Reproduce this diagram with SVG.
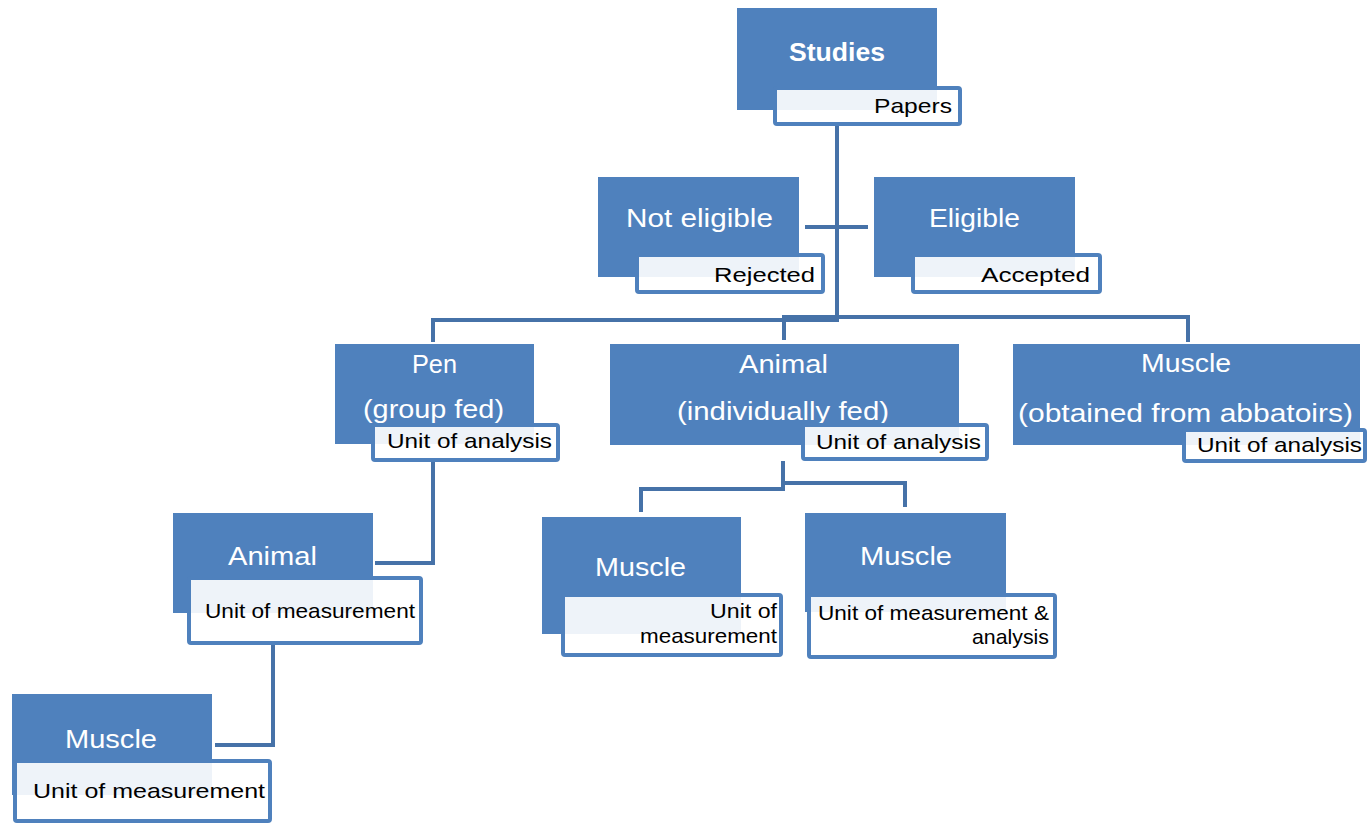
<svg xmlns="http://www.w3.org/2000/svg" width="1369" height="823" viewBox="0 0 1369 823">
<style>
.b{fill:#4F81BD}
.u{fill:#fff;fill-opacity:0.9;stroke:#4F81BD;stroke-width:4}
.c{fill:none;stroke:#4672A8;stroke-width:4}
.t{font-family:"Liberation Sans",Arial,sans-serif;fill:#fff;font-size:25px}
.s{font-family:"Liberation Sans",Arial,sans-serif;fill:#000;font-size:21px}
</style>
<rect width="1369" height="823" fill="#fff"/>
<g id="connectors">
<path class="c" d="M837,126 V320 H433 V342"/>
<path class="c" d="M837,317 H784 V340"/>
<path class="c" d="M837,317 H1188 V342"/>
<path class="c" d="M805,227 H868"/>
<path class="c" d="M433,462 V563 H375"/>
<path class="c" d="M273,645 V745 H215"/>
<path class="c" d="M783,461 V489 H641 V512"/>
<path class="c" d="M783,483 H905 V507"/>
</g>
<g id="studies">
<rect class="b" x="737" y="8" width="200" height="102"/>
<text class="t" x="789" y="61" font-weight="bold" font-size="27" textLength="96" lengthAdjust="spacingAndGlyphs">Studies</text>
<rect class="u" x="775" y="88" width="185" height="36" rx="2"/>
<text class="s" x="874" y="113" font-size="23" textLength="78" lengthAdjust="spacingAndGlyphs">Papers</text>
</g>
<g id="not-eligible">
<rect class="b" x="598" y="177" width="201" height="100"/>
<text class="t" x="626" y="227" textLength="147" lengthAdjust="spacingAndGlyphs">Not eligible</text>
<rect class="u" x="637" y="255" width="186" height="37" rx="2"/>
<text class="s" x="714" y="282" font-size="23" textLength="101" lengthAdjust="spacingAndGlyphs">Rejected</text>
</g>
<g id="eligible">
<rect class="b" x="874" y="177" width="201" height="100"/>
<text class="t" x="929" y="227" textLength="91" lengthAdjust="spacingAndGlyphs">Eligible</text>
<rect class="u" x="913" y="255" width="187" height="37" rx="2"/>
<text class="s" x="981" y="282" font-size="23" textLength="109" lengthAdjust="spacingAndGlyphs">Accepted</text>
</g>
<g id="pen">
<rect class="b" x="335" y="344" width="199" height="100"/>
<text class="t" x="412" y="373" textLength="45" lengthAdjust="spacingAndGlyphs">Pen</text>
<text class="t" x="363" y="418" textLength="141" lengthAdjust="spacingAndGlyphs">(group fed)</text>
<rect class="u" x="373" y="425" width="185" height="35" rx="2"/>
<text class="s" x="387" y="448" textLength="165" lengthAdjust="spacingAndGlyphs">Unit of analysis</text>
</g>
<g id="animal-individual">
<rect class="b" x="610" y="344" width="349" height="101"/>
<text class="t" x="739" y="373" textLength="89" lengthAdjust="spacingAndGlyphs">Animal</text>
<text class="t" x="677" y="420" textLength="212" lengthAdjust="spacingAndGlyphs">(individually fed)</text>
<rect class="u" x="803" y="425" width="184" height="34" rx="2"/>
<text class="s" x="816" y="449" textLength="165" lengthAdjust="spacingAndGlyphs">Unit of analysis</text>
</g>
<g id="muscle-abbatoirs">
<rect class="b" x="1013" y="344" width="347" height="101"/>
<text class="t" x="1141" y="372" textLength="90" lengthAdjust="spacingAndGlyphs">Muscle</text>
<text class="t" x="1018" y="422" textLength="335" lengthAdjust="spacingAndGlyphs">(obtained from abbatoirs)</text>
<rect class="u" x="1184" y="430" width="181" height="31" rx="2"/>
<text class="s" x="1197" y="452" textLength="165" lengthAdjust="spacingAndGlyphs">Unit of analysis</text>
</g>
<g id="animal-measurement">
<rect class="b" x="173" y="513" width="200" height="100"/>
<text class="t" x="228" y="565" textLength="89" lengthAdjust="spacingAndGlyphs">Animal</text>
<rect class="u" x="189" y="578" width="232" height="65" rx="2"/>
<text class="s" x="205" y="618" font-size="23" textLength="210" lengthAdjust="spacingAndGlyphs">Unit of measurement</text>
</g>
<g id="muscle-measurement">
<rect class="b" x="542" y="517" width="199" height="117"/>
<text class="t" x="595" y="576" textLength="91" lengthAdjust="spacingAndGlyphs">Muscle</text>
<rect class="u" x="563" y="595" width="218" height="60" rx="2"/>
<text class="s" x="710" y="618" textLength="67" lengthAdjust="spacingAndGlyphs">Unit of</text>
<text class="s" x="640" y="643" textLength="137" lengthAdjust="spacingAndGlyphs">measurement</text>
</g>
<g id="muscle-measurement-analysis">
<rect class="b" x="805" y="513" width="201" height="99"/>
<text class="t" x="860" y="565" textLength="92" lengthAdjust="spacingAndGlyphs">Muscle</text>
<rect class="u" x="809" y="595" width="246" height="62" rx="2"/>
<text class="s" x="818" y="620" textLength="231" lengthAdjust="spacingAndGlyphs">Unit of measurement &amp;</text>
<text class="s" x="972" y="644" textLength="77" lengthAdjust="spacingAndGlyphs">analysis</text>
</g>
<g id="muscle-bottom">
<rect class="b" x="12" y="694" width="200" height="101"/>
<text class="t" x="65" y="748" textLength="92" lengthAdjust="spacingAndGlyphs">Muscle</text>
<rect class="u" x="15" y="761" width="255" height="60" rx="2"/>
<text class="s" x="33" y="798" font-size="24" textLength="232" lengthAdjust="spacingAndGlyphs">Unit of measurement</text>
</g>
</svg>
